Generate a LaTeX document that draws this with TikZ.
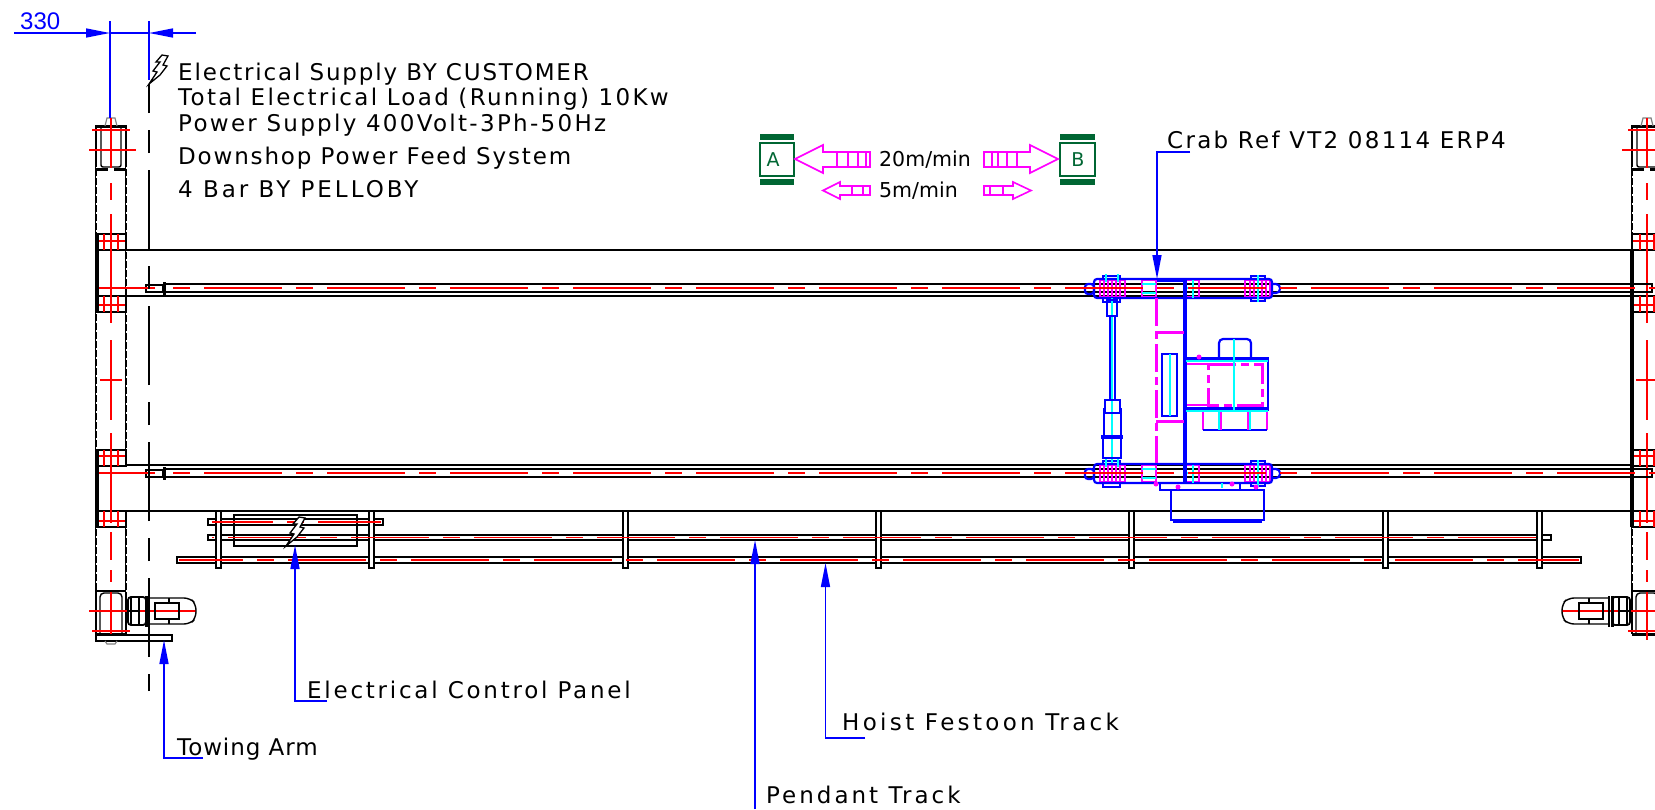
\documentclass[tikz,border=0pt]{standalone}
\usepackage{fontspec}
\setmainfont{DejaVu Sans}[LetterSpace=8]
\newfontfamily\dimfont{Liberation Sans}
\usepackage{tikz}
\usetikzlibrary{arrows.meta}

\definecolor{cad_blue}{RGB}{0,0,255}
\definecolor{cad_red}{RGB}{255,0,0}
\definecolor{cad_cyan}{RGB}{0,255,255}
\definecolor{cad_magenta}{RGB}{255,0,255}
\definecolor{cad_green}{RGB}{0,102,51}

\tikzset{
	line_style/.style={draw=black,line width=1.4pt},
	thick_style/.style={draw=black,line width=3pt},
	side_style/.style={draw=black,line width=4pt},
	bump_style/.style={draw=black!50,line width=1.2pt},
	beam_style/.style={draw=black,line width=2.8pt,postaction={draw=white,line width=1pt,dash pattern=on 2pt off 7pt}},
	centre_style/.style={draw=black,line width=1.4pt,dash pattern=on 79pt off 17pt on 23pt off 17pt,dash phase=102pt},
	red_style/.style={draw=cad_red,line width=1.5pt},
	rail_red_style/.style={draw=cad_red,line width=1.8pt,dash pattern=on 78pt off 14pt on 17pt off 14pt,dash phase=#1},
	leader_style/.style={draw=cad_blue,line width=1.5pt,-{Triangle[length=24pt,width=9pt]}},
	dim_style/.style={draw=cad_blue,line width=1.5pt},
	text_style/.style={anchor=base west,inner sep=0pt,font=\fontsize{23}{23}\selectfont\addfontfeature{LetterSpace=#1}},
	text_style/.default=8,
	flow_text/.style={anchor=base west,inner sep=0pt,font=\fontsize{20.5}{20.5}\selectfont\addfontfeature{LetterSpace=0}},
	flow_style/.style={draw=cad_magenta,line width=1.6pt},
	crab_style/.style={draw=cad_blue,line width=2.2pt},
	crab_thick/.style={draw=cad_blue,line width=3.4pt},
	crab_cyan/.style={draw=cad_cyan,line width=1.5pt},
	crab_magenta/.style={draw=cad_magenta,line width=1.8pt},
	crab_dash/.style={draw=cad_magenta,line width=3pt,dash pattern=on 28pt off 5pt on 8pt off 5pt},
	crab_dot/.style={fill=cad_magenta,draw=none},
	bolt_style/.style={draw=black,line width=1.3pt,fill=white},
	beam_end/.pic={
		\draw[beam_style] (96,167) -- (96,234);
		\draw[beam_style] (126,167) -- (126,234);
		\draw[beam_style] (96,312) -- (96,450);
		\draw[beam_style] (126,250) -- (126,450);
		\draw[beam_style] (96,527) -- (96,592);
		\draw[beam_style] (126,527) -- (126,592);
		\draw[line_style] (96,126) -- (96,167) (126,126) -- (126,167);
		\draw[line_style] (96,592) -- (96,634) (126,592) -- (126,634);
		\draw[thick_style] (95,126) -- (127,126);
		\draw[thick_style] (96,169) -- (108,169) (114,169) -- (126,169);
		\draw[line_style,rounded corners=2pt] (101,127) -- (101,167) -- (121,167) -- (121,127);
		\draw[line_style,rounded corners=4pt] (100,634) -- (100,593) -- (122,593) -- (122,634);
		\draw[line_style] (96,591) -- (126,591);
		\draw[thick_style] (96,634) -- (126,634);
		\draw[bump_style] (105,126) -- (107,118) -- (115,118) -- (117,126);
		\draw[line_style] (96,234) rectangle (126,250);
		\draw[line_style] (96,296) rectangle (126,312);
		\draw[line_style] (96,450) rectangle (126,466);
		\draw[line_style] (96,511) rectangle (126,527);
		% centre lines
		\draw[red_style] (92,130) -- (130,130);
		\draw[red_style] (89,150) -- (136,150);
		\draw[red_style] (92,631) -- (130,631);
		\draw[red_style] (89,611) -- (196,611);
		\draw[red_style] (111,118) -- (111,168) (111,183) -- (111,200) (111,214) -- (111,323);
		\draw[red_style] (111,340) -- (111,420) (111,433) -- (111,444) (111,444) -- (111,523);
		\draw[red_style] (111,532) -- (111,560) (111,570) -- (111,582) (111,592) -- (111,640);
		\draw[red_style] (100,380) -- (122,380);
		\foreach \rowy/\topy in {241/234,305/296,456/450,521/511}{
			\draw[red_style] (98,\rowy) -- (125,\rowy);
			\draw[red_style] (104,\topy) -- (104,\topy+16);
			\draw[red_style] (118,\topy) -- (118,\topy+16);
		}
		% drive
		\draw[line_style,rounded corners=3pt,line width=1.8pt] (128,597) rectangle (146,625);
		\draw[line_style] (131,597) -- (131,625) (139,597) -- (139,625) (128,611) -- (139,611);
		\draw[thick_style] (146,596) -- (146,627);
		\draw[line_style] (149,596) -- (149,627);
		\draw[line_style,rounded corners=6pt] (150,598) -- (190,598) -- (196,604) -- (196,618) -- (190,624) -- (150,624);
		\draw[line_style] (155,603) rectangle (179,619);
		\draw[line_style] (169,598) -- (169,603) (169,619) -- (169,624);
	},
	crab_truck/.pic={
		\foreach \boxa/\boxb in {1100/1125,1142/1156,1185/1199,1245/1270}{
			\draw[crab_magenta] (\boxa,280) rectangle (\boxb,297);
		}
		\draw[crab_magenta] (1104,280) -- (1104,297) (1108,280) -- (1108,297) (1112,280) -- (1112,297) (1116,280) -- (1116,297) (1120,280) -- (1120,297);
		\draw[crab_magenta] (1250,280) -- (1250,297) (1254,280) -- (1254,297) (1262,280) -- (1262,297) (1266,280) -- (1266,297);
		\draw[crab_style,rounded corners=3pt] (1094,279) rectangle (1272,298);
		\draw[crab_style,rounded corners=3pt] (1085,284) rectangle (1094,294);
		\draw[crab_style,rounded corners=4pt] (1272,284) -- (1280,284) -- (1280,293) -- (1272,293);
		\draw[crab_style] (1103,279) -- (1103,276) -- (1120,276) -- (1120,279);
		\draw[crab_style] (1103,298) -- (1103,302) -- (1120,302) -- (1120,298);
		\draw[crab_style] (1251,279) -- (1251,276) -- (1265,276) -- (1265,279);
		\draw[crab_style] (1251,298) -- (1251,301) -- (1265,301) -- (1265,298);
		\draw[crab_cyan] (1096,288) -- (1108,288) (1106,274) -- (1106,282) (1118,274) -- (1118,282);
		\draw[crab_cyan] (1258,275) -- (1258,302);
		\draw[crab_cyan] (1142,284) -- (1156,284) (1142,293) -- (1156,293);
		\draw[crab_cyan] (1185,288) -- (1200,288) (1193,280) -- (1193,298);
		\draw[crab_cyan] (1217,288) -- (1231,288);
	},
}

\begin{document}
\begin{tikzpicture}[x=1pt,y=-1pt]
	\useasboundingbox (0,0) rectangle (1655,809);

	% text nodes
	\node[text_style] (supply) at (178,80) {Electrical Supply BY CUSTOMER};
	\node[text_style=10] (load) at (178,105) {Total Electrical Load (Running) 10Kw};
	\node[text_style=10] (power) at (178,131) {Power Supply 400Volt-3Ph-50Hz};
	\node[text_style] (feed) at (178,164) {Downshop Power Feed System};
	\node[text_style=13] (bar) at (178,197) {4 Bar BY PELLOBY};
	\node[text_style=10] (crab_label) at (1167,148) {Crab Ref VT2 08114 ERP4};
	\node[text_style=12] (panel_label) at (307,698) {Electrical Control Panel};
	\node[text_style=4] (towing_label) at (177,755) {Towing Arm};
	\node[text_style=14.5] (festoon_label) at (842,730) {Hoist Festoon Track};
	\node[text_style=13] (pendant_label) at (766,803) {Pendant Track};
	\node[flow_text] (fast_label) at (879,166) {20m/min};
	\node[flow_text] (slow_label) at (879,197) {5m/min};
	\node[anchor=base west,inner sep=0pt,text=cad_blue,font=\dimfont\fontsize{24}{24}\selectfont] (dim_label) at (20,29) {330};
	\node[text=cad_green,inner sep=0pt,font=\fontsize{19}{19}\selectfont] (a_label) at (773,160) {A};
	\node[text=cad_green,inner sep=0pt,font=\fontsize{19}{19}\selectfont] (b_label) at (1078,160) {B};

	% main beams
	\draw[line_style] (126,250) -- (1632,250);
	\draw[line_style] (126,511) -- (1632,511);
	\pic at (0,0) {beam_end};
	\pic[xscale=-1] at (1758,0) {beam_end};
	\draw[side_style] (97,234) -- (97,312);
	\draw[side_style] (97,450) -- (97,527);
	\draw[side_style] (1632,250) -- (1632,527);

	% crane rails
	\draw[line_style] (165,284) -- (1652,284);
	\draw[line_style] (165,292) -- (1652,292);
	\draw[line_style] (126,296) -- (1632,296);
	\draw[line_style] (126,465) -- (1632,465);
	\draw[line_style] (165,469) -- (1652,469);
	\draw[line_style] (165,477) -- (1652,477);
	\draw[thick_style,line width=2.2pt] (146,285) rectangle (163,292);
	\draw[thick_style] (164,282) -- (164,295);
	\draw[thick_style,line width=2.2pt] (146,470) rectangle (163,477);
	\draw[thick_style] (164,467) -- (164,480);
	\draw[line_style] (1632,284) rectangle (1652,292);
	\draw[line_style] (1632,469) rectangle (1652,477);

	% crab
	\pic at (0,0) {crab_truck};
	\pic at (0,185) {crab_truck};
	\draw[crab_thick] (1157,280) -- (1185,280);
	\draw[crab_thick] (1185,280) -- (1185,482);
	\draw[crab_dash] (1156,298) -- (1156,463);
	\draw[crab_dash] (1156,332) -- (1185,332);
	\draw[crab_dash] (1156,421) -- (1185,421);
	\draw[crab_style] (1162,354) rectangle (1177,416);
	\draw[crab_cyan] (1170,354) -- (1170,416);
	% long shaft and brake
	\draw[crab_style] (1110,316) -- (1110,400) (1115,316) -- (1115,400);
	\draw[crab_cyan] (1112,298) -- (1112,463);
	\draw[crab_style] (1107,300) rectangle (1117,316);
	\draw[crab_style] (1105,400) rectangle (1120,413);
	\draw[crab_style] (1104,408) -- (1104,435) (1121,408) -- (1121,435);
	\draw[crab_thick] (1101,437) -- (1123,437);
	\draw[crab_style] (1103,439) -- (1103,458) -- (1121,458) -- (1121,439);
	% motor
	\draw[crab_dash] (1208,364) -- (1262,364) -- (1262,405) -- (1208,405) -- cycle;
	\draw[crab_magenta] (1186,364) -- (1208,364) (1186,405) -- (1208,405);
	\draw[crab_style] (1186,358) rectangle (1268,410);
	\draw[crab_thick] (1186,359) -- (1268,359);
	\draw[crab_thick] (1186,409) -- (1268,409);
	\draw[crab_cyan] (1186,361) -- (1268,361) (1186,411) -- (1268,411);
	\draw[crab_style,rounded corners=4pt] (1219,358) -- (1219,339) -- (1251,339) -- (1251,358);
	\draw[crab_cyan] (1234,339) -- (1234,412);
	\draw[crab_magenta] (1203,412) -- (1203,430) (1267,412) -- (1267,430);
	\draw[crab_style] (1203,430) -- (1267,430);
	\draw[crab_cyan] (1219,412) -- (1219,430) (1250,412) -- (1250,430);
	\draw[crab_magenta] (1248,412) -- (1248,430) (1221,412) -- (1221,430);
	\fill[crab_dot] (1199,357) circle (2.5pt);
	% hoist panel under the crab
	\draw[crab_thick,line width=2.4pt] (1160,483) -- (1160,490) -- (1240,490) -- (1240,483);
	\draw[crab_style] (1171,490) -- (1171,520) -- (1264,520) -- (1264,490) -- (1171,490);
	\draw[crab_style] (1173,522) -- (1262,522);
	\draw[crab_cyan] (1222,483) -- (1222,488);
	\fill[crab_dot] (1156,484) circle (2.5pt);
	\fill[crab_dot] (1178,487) circle (2.5pt);
	\fill[crab_dot] (1232,484) circle (2.5pt);
	\fill[crab_dot] (1256,487) circle (2.5pt);

	% festoon tracks
	\draw[line_style] (208,519) rectangle (383,525);
	\draw[line_style] (208,535) rectangle (1551,540);
	\draw[line_style] (177,557) rectangle (1581,563);
	\foreach \hangx in {216,369,623,876,1129,1383,1537}{
		\draw[line_style,fill=white] (\hangx,511) rectangle (\hangx+5,568);
	}
	\draw[line_style] (234,515) rectangle (357,546);

	% red rail centre lines
	\draw[rail_red_style=92pt] (173,288) -- (1655,288);
	\draw[rail_red_style=92pt] (173,473) -- (1655,473);
	\draw[rail_red_style=17pt] (212,522) -- (381,522);
	\draw[rail_red_style=107pt] (212,537.5) -- (1549,537.5);
	\draw[rail_red_style=14pt] (179,560) -- (1579,560);
	\draw[red_style] (99,288) -- (155,288);
	\draw[red_style] (99,473) -- (155,473);

	% towing arm
	\draw[line_style,fill=white] (96,635) rectangle (172,641);
	\draw[bump_style] (105,641) -- (107,644) -- (115,644) -- (117,641);

	% setting out line
	\draw[centre_style] (149,691) -- (149,84);

	% lightning marks
	\draw[bolt_style] (149,84) -- (157,72) -- (153,71) -- (160,62) -- (156,62) -- (162,55) -- (168,56) -- (163,65) -- (167,66) -- (160,75) -- cycle;
	\draw[bolt_style] (286,546) -- (294,534) -- (290,533) -- (297,524) -- (293,524) -- (299,517) -- (305,518) -- (300,527) -- (304,528) -- (297,537) -- cycle;

	% dimension
	\coordinate (dim_left) at (14,33);
	\coordinate (dim_right) at (196,33);
	\coordinate (ext_a_top) at (110,21);
	\coordinate (ext_a_low) at (110,118);
	\coordinate (ext_b_top) at (149,21);
	\coordinate (ext_b_low) at (149,80);
	\draw[dim_style] (ext_a_top) -- (ext_a_low);
	\draw[dim_style] (ext_b_top) -- (ext_b_low);
	\draw[leader_style] (dim_left) -- (ext_a_top |- dim_left);
	\draw[leader_style] (dim_right) -- (ext_b_top |- dim_right);
	\draw[dim_style] (ext_a_top |- dim_left) -- (ext_b_top |- dim_left);

	% leaders
	\coordinate (crab_shelf) at (1190,152);
	\coordinate (crab_tip) at (1157,279);
	\coordinate (panel_shelf) at (327,701);
	\coordinate (panel_tip) at (295,545);
	\coordinate (towing_shelf) at (203,758);
	\coordinate (towing_tip) at (164,640);
	\coordinate (festoon_shelf) at (865,738);
	\coordinate (festoon_tip) at (825.5,563);
	\coordinate (pendant_end) at (755,809);
	\coordinate (pendant_tip) at (755,540);
	\draw[leader_style] (crab_shelf) -| (crab_tip);
	\draw[leader_style] (panel_shelf) -| (panel_tip);
	\draw[leader_style] (towing_shelf) -| (towing_tip);
	\draw[leader_style] (festoon_shelf) -| (festoon_tip);
	\draw[leader_style] (pendant_end) -- (pendant_tip);

	% travel boxes
	\foreach \boxa/\boxb in {760/794,1060/1095}{
		\draw[draw=cad_green,line width=1.8pt] (\boxa,143) rectangle (\boxb,176);
		\fill[cad_green] (\boxa,134) rectangle (\boxb,140);
		\fill[cad_green] (\boxa,179) rectangle (\boxb,185);
	}

	% travel arrows
	\draw[flow_style] (870,152) -- (823,152) -- (823,145) -- (795,159) -- (823,173) -- (823,167) -- (870,167) -- cycle;
	\draw[flow_style] (837,152) -- (837,167) (848,152) -- (848,167) (858,152) -- (858,167) (866,152) -- (866,167);
	\draw[flow_style] (984,152) -- (1030,152) -- (1030,145) -- (1058,159) -- (1030,173) -- (1030,167) -- (984,167) -- cycle;
	\draw[flow_style] (992,152) -- (992,167) (998,152) -- (998,167) (1007,152) -- (1007,167) (1017,152) -- (1017,167);
	\draw[flow_style] (870,186) -- (840,186) -- (840,182) -- (823,190.5) -- (840,199) -- (840,195) -- (870,195) -- cycle;
	\draw[flow_style] (852,186) -- (852,195) (863,186) -- (863,195);
	\draw[flow_style] (984,186) -- (1013,186) -- (1013,182) -- (1031,190.5) -- (1013,199) -- (1013,195) -- (984,195) -- cycle;
	\draw[flow_style] (990,186) -- (990,195) (1003,186) -- (1003,195);
\end{tikzpicture}
\end{document}
